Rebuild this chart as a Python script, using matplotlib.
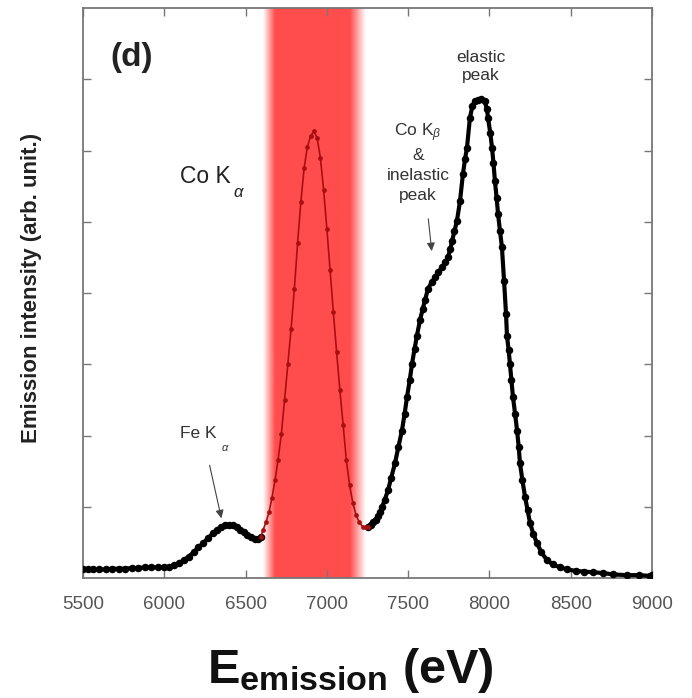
import numpy as np
import matplotlib
matplotlib.use("Agg")
import matplotlib.pyplot as plt

plt.rcParams['font.family'] = ['Liberation Sans', 'DejaVu Sans']
plt.rcParams['mathtext.fontset'] = 'custom'
plt.rcParams['mathtext.rm'] = 'Liberation Sans'
plt.rcParams['mathtext.it'] = 'Liberation Sans:italic'
plt.rcParams['mathtext.bf'] = 'Liberation Sans:bold'

# ---------------- data ----------------
# Fe K-alpha region (black, below the filtered band)
fe_energy = [5500, 5530, 5560, 5600, 5640, 5680, 5720, 5760, 5800, 5840, 5880, 5920,
             5960, 6000, 6030, 6060, 6090, 6120, 6150, 6180, 6210, 6240, 6270, 6300,
             6325, 6350, 6375, 6400, 6423, 6445, 6466, 6490, 6510, 6535, 6558, 6575, 6592]
fe_intensity = [0.12, 0.12, 0.12, 0.12, 0.12, 0.13, 0.13, 0.13, 0.14, 0.14, 0.15, 0.15,
                0.15, 0.15, 0.16, 0.18, 0.21, 0.25, 0.30, 0.36, 0.43, 0.49, 0.56, 0.63,
                0.68, 0.72, 0.74, 0.74, 0.74, 0.72, 0.68, 0.64, 0.60, 0.57, 0.55, 0.55, 0.57]

# Co K-alpha region (inside the red filter band)
coka_energy = [6592, 6607, 6625, 6644, 6662, 6681, 6700, 6720, 6740, 6760, 6780, 6800,
               6820, 6840, 6860, 6880, 6900, 6920, 6940, 6960, 6980, 7000, 7020, 7040,
               7060, 7080, 7100, 7120, 7140, 7160, 7180, 7200, 7220, 7240, 7253]
coka_intensity = [0.57, 0.67, 0.78, 0.92, 1.12, 1.37, 1.66, 2.02, 2.50, 3.00, 3.50, 4.05,
                  4.70, 5.28, 5.75, 6.05, 6.20, 6.27, 6.18, 5.90, 5.45, 4.90, 4.32, 3.73,
                  3.17, 2.64, 2.15, 1.65, 1.30, 1.05, 0.88, 0.78, 0.72, 0.71, 0.72]

# Co K-beta, inelastic and elastic peaks (black)
el_energy = [7253, 7270, 7284, 7300, 7315, 7327, 7340, 7355, 7376, 7395, 7419, 7440,
             7462, 7478, 7493, 7510, 7524, 7540, 7554, 7573, 7590, 7604, 7622, 7645,
             7665, 7685, 7708, 7728, 7745, 7760, 7770, 7785, 7800, 7819, 7837, 7850,
             7862, 7880, 7895, 7910, 7930, 7950, 7970, 7985, 7991, 8005, 8016, 8025,
             8034, 8044, 8053, 8065, 8077, 8090, 8102, 8108, 8118, 8126, 8135, 8145,
             8158, 8170, 8180, 8188, 8203, 8219, 8235, 8250, 8270, 8292, 8320, 8354,
             8390, 8434, 8480, 8530, 8580, 8637, 8700, 8760, 8846, 8920, 8987, 9000]
el_intensity = [0.72, 0.75, 0.78, 0.82, 0.87, 0.92, 1.00, 1.09, 1.23, 1.40, 1.61, 1.84,
                2.07, 2.30, 2.54, 2.78, 3.01, 3.22, 3.40, 3.62, 3.78, 3.90, 4.06, 4.15,
                4.22, 4.29, 4.36, 4.43, 4.50, 4.62, 4.73, 4.87, 5.01, 5.29, 5.67, 5.88,
                6.04, 6.46, 6.62, 6.70, 6.71, 6.72, 6.70, 6.58, 6.46, 6.25, 6.04, 5.82,
                5.57, 5.34, 5.11, 4.87, 4.64, 4.17, 3.71, 3.40, 3.20, 3.01, 2.78, 2.54,
                2.30, 2.07, 1.84, 1.61, 1.37, 1.14, 0.95, 0.77, 0.62, 0.49, 0.36, 0.25,
                0.19, 0.15, 0.12, 0.10, 0.09, 0.08, 0.07, 0.05, 0.04, 0.04, 0.03, 0.04]

# filter band: fade start, solid start, solid end, fade end (eV)
band_edges = [6607, 6681, 7142, 7240]

x_ticks = [5500, 6000, 6500, 7000, 7500, 8000, 8500, 9000]
y_ticks = [1, 2, 3, 4, 5, 6, 7]

# ---------------- figure ----------------
fig = plt.figure(figsize=(6.92, 6.98), dpi=100)
ax = fig.add_axes([83 / 692, 120 / 698, 569 / 692, 570 / 698])

# red band with soft edges
xs = np.linspace(band_edges[0], band_edges[3], 400)
alpha = np.interp(xs, band_edges, [0, 1, 1, 0])
img = np.zeros((1, len(xs), 4))
img[..., 0] = 1.0
img[..., 1] = 0.30
img[..., 2] = 0.30
img[..., 3] = alpha
ax.imshow(img, extent=[band_edges[0], band_edges[3], 0, 8], aspect='auto',
          interpolation='bilinear', zorder=1)

ax.plot(fe_energy, fe_intensity, color='black', lw=3.0, marker='o', ms=4.4,
        zorder=3)
ax.plot(el_energy, el_intensity, color='black', lw=3.0, marker='o', ms=4.4,
        zorder=3)
ax.plot(coka_energy, coka_intensity, color='#a81010', lw=1.2, marker='o', ms=2.4,
        zorder=3)

ax.set_xlim(5500, 9000)
ax.set_ylim(0, 8)
ax.set_xticks(x_ticks)
ax.set_xticklabels([str(t) for t in x_ticks])
ax.set_yticks(y_ticks)
ax.set_yticklabels([])
ax.tick_params(axis='both', direction='in', length=6, width=1.0, color='#777777',
               top=True, right=True)
ax.tick_params(axis='x', labelsize=13.5, labelcolor='#555555', pad=13)
for s in ax.spines.values():
    s.set_color('#777777')
    s.set_linewidth(1.3)

ax.set_ylabel('Emission intensity (arb. unit.)', fontsize=16, fontweight='bold',
              color='#222222')
ax.yaxis.set_label_coords(-0.072, 0.509)

fig.text(350 / 692, 1 - 683 / 698,
         r'$\mathbf{E}_{\mathbf{emission}}\ \mathbf{(eV)}$',
         fontsize=35, ha='center', va='baseline', color='#111111')

# annotations
ax.text(5666, 7.30, '(d)', fontsize=24, fontweight='bold', va='center',
        ha='left', color='#222222')
ax.text(6097, 5.55, 'Co K', fontsize=16.5, va='baseline', ha='left',
        color='#222222')
ax.text(6425, 5.41, 'α', fontsize=12, va='center', ha='left', style='italic',
        color='#222222')

ax.text(7948, 7.18, 'elastic\npeak', fontsize=12.5, ha='center', va='center',
        linespacing=1.25, color='#333333')
ax.text(7561, 5.84, 'Co K$_{\\beta}$\n&\ninelastic\npeak', fontsize=12.5,
        ha='center', va='center', linespacing=1.4, color='#333333')
ax.annotate('', xy=(7647, 4.55), xytext=(7622, 5.08),
            arrowprops=dict(arrowstyle='-|>', color='#444444', lw=0.8,
                            mutation_scale=12))

ax.text(6097, 2.03, 'Fe K', fontsize=12.5, ha='left', va='center',
        color='#333333')
ax.text(6355, 1.83, 'α', fontsize=8, ha='left', va='center', style='italic',
        color='#333333')
ax.annotate('', xy=(6355, 0.80), xytext=(6275, 1.62),
            arrowprops=dict(arrowstyle='-|>', color='#444444', lw=0.8,
                            mutation_scale=12))

fig.savefig('out.png', dpi=100)
